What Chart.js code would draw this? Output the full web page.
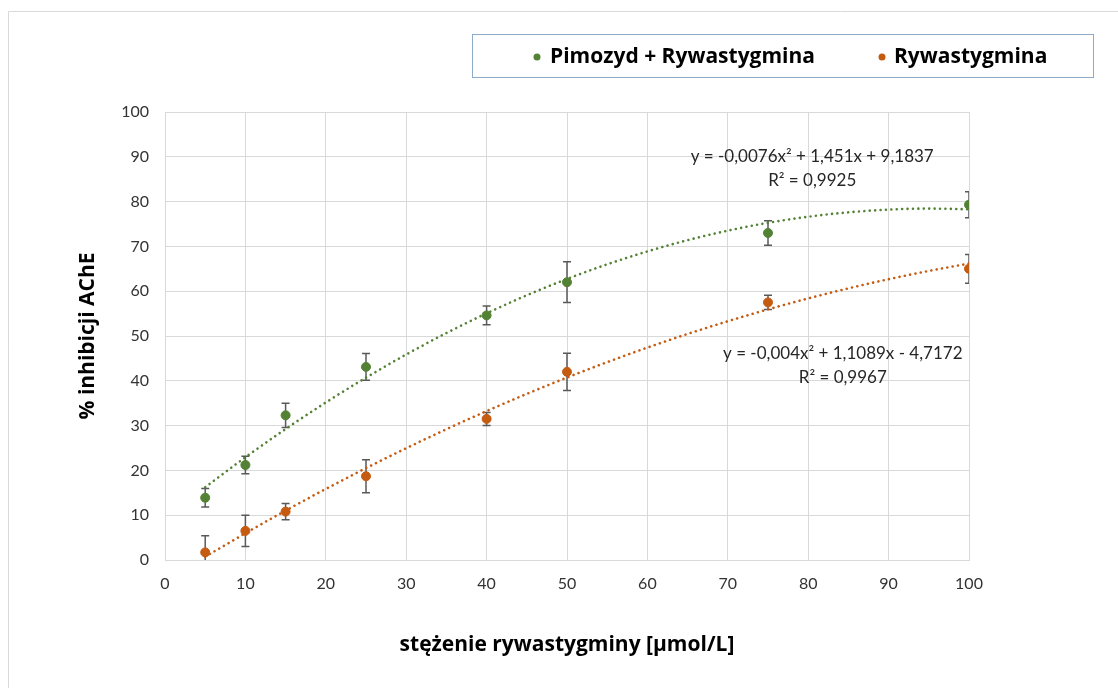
<!DOCTYPE html>
<html>
<head>
<meta charset="utf-8">
<script src="https://cdn.jsdelivr.net/npm/chart.js@4.4.1/dist/chart.umd.min.js"></script>
<style>
  html, body { margin: 0; padding: 0; background: #fff; }
  #wrap { position: relative; width: 1118px; height: 688px; }
</style>
</head>
<body>
<div id="wrap"><canvas id="c" width="1118" height="688"></canvas></div>
<script>
// ---- data ----
const concentrations = [5, 10, 15, 25, 40, 50, 75, 100];
const pimozydRyw     = [13.9, 21.2, 32.3, 43.1, 54.6, 62.0, 73.0, 79.3];
const pimozydRywErr  = [2.05, 1.95, 2.7, 3.0, 2.1, 4.55, 2.75, 2.9];
const ryw            = [1.7, 6.5, 10.8, 18.7, 31.5, 42.0, 57.5, 65.0];
const rywErr         = [3.7, 3.5, 1.8, 3.7, 1.45, 4.15, 1.6, 3.2];

const trendX         = [5, 10, 15, 20, 25, 30, 35, 40, 45, 50, 55, 60, 65, 70, 75, 80, 85, 90, 95, 100];
const pimozydTrend   = [16.25, 22.93, 29.24, 35.16, 40.71, 45.87, 50.66, 55.06, 59.09, 62.73, 66.00, 68.88, 71.39, 73.51, 75.26, 76.62, 77.61, 78.21, 78.44, 78.28];
const rywTrend       = [0.73, 5.97, 11.02, 15.86, 20.51, 24.95, 29.19, 33.24, 37.08, 40.73, 44.17, 47.42, 50.46, 53.30, 55.95, 58.39, 60.64, 62.68, 64.53, 66.17];

const seriesLabels   = ['Pimozyd + Rywastygmina', 'Rywastygmina'];
const xTicks         = [0, 10, 20, 30, 40, 50, 60, 70, 80, 90, 100];
const yTicks         = [0, 10, 20, 30, 40, 50, 60, 70, 80, 90, 100];
const xTitle         = 'stężenie rywastygminy [µmol/L]';
const yTitle         = '% inhibicji AChE';
const pimozydEqText  = ['y = -0,0076x² + 1,451x + 9,1837', 'R² = 0,9925'];
const rywEqText      = ['y = -0,004x² + 1,1089x - 4,7172', 'R² = 0,9967'];

const GREEN = '#548235';
const ORANGE = '#C55A11';
const FONT = 'Lato, "Liberation Sans", sans-serif';
const BOLDFONT = '"Open Sans", Lato, sans-serif';

Chart.defaults.font.family = FONT;
Chart.defaults.color = '#333';

const toXY = (xs, ys) => xs.map((x, i) => ({ x: x, y: ys[i] }));

// error bars (drawn through the scales)
const errorBarPlugin = {
  id: 'errorBars',
  beforeDatasetsDraw(chart) {
    const { ctx, chartArea, scales: { x, y } } = chart;
    ctx.save();
    ctx.beginPath();
    ctx.rect(chartArea.left, chartArea.top, chartArea.right - chartArea.left, chartArea.bottom - chartArea.top);
    ctx.clip();
    ctx.strokeStyle = '#595959';
    ctx.lineWidth = 1.5;
    chart.data.datasets.forEach(ds => {
      if (!ds.errors) return;
      ds.data.forEach((p, i) => {
        const px = x.getPixelForValue(p.x);
        const top = y.getPixelForValue(p.y + ds.errors[i]);
        const bot = y.getPixelForValue(p.y - ds.errors[i]);
        ctx.beginPath();
        ctx.moveTo(px, top); ctx.lineTo(px, bot);
        ctx.moveTo(px - 4, top); ctx.lineTo(px + 4, top);
        ctx.moveTo(px - 4, bot); ctx.lineTo(px + 4, bot);
        ctx.stroke();
      });
    });
    ctx.restore();
  }
};

// equation labels + legend box + outer frame
const decorPlugin = {
  id: 'decor',
  afterDraw(chart) {
    const { ctx, scales: { x, y } } = chart;
    ctx.save();
    // outer frame (top + left visible)
    ctx.strokeStyle = '#d9d9d9';
    ctx.lineWidth = 1;
    ctx.beginPath();
    ctx.moveTo(8.5, 688); ctx.lineTo(8.5, 11.5); ctx.lineTo(1118, 11.5);
    ctx.stroke();

    // equations
    ctx.fillStyle = '#262626';
    ctx.font = '17px ' + FONT;
    ctx.textAlign = 'center';
    ctx.textBaseline = 'middle';
    const eqs = [
      { t: pimozydEqText, cx: 80.5, y1: 90.0, y2: 84.8 },
      { t: rywEqText, cx: 84.3, y1: 46.2, y2: 40.8 }
    ];
    eqs.forEach(e => {
      const px = x.getPixelForValue(e.cx);
      ctx.fillText(e.t[0], px, y.getPixelForValue(e.y1));
      ctx.fillText(e.t[1], px, y.getPixelForValue(e.y2));
    });

    // legend box
    ctx.strokeStyle = '#8FAAC4';
    ctx.lineWidth = 1;
    ctx.strokeRect(472.5, 34.5, 621, 43);
    ctx.font = 'bold 21px ' + BOLDFONT;
    ctx.textAlign = 'left';
    ctx.fillStyle = '#000';
    const items = [
      { label: chart.data.datasets[0].label, color: GREEN, dot: 537, tx: 550 },
      { label: chart.data.datasets[1].label, color: ORANGE, dot: 882, tx: 894 }
    ];
    items.forEach(it => {
      ctx.fillStyle = it.color;
      ctx.beginPath();
      ctx.arc(it.dot, 57, 3.5, 0, Math.PI * 2);
      ctx.fill();
      ctx.fillStyle = '#000';
      ctx.fillText(it.label, it.tx, 57);
    });
    ctx.restore();
  }
};

const PAD_LEFT = 20, PAD_BOTTOM = 10;

new Chart(document.getElementById('c'), {
  type: 'scatter',
  data: {
    datasets: [
      {
        label: seriesLabels[0],
        data: toXY(concentrations, pimozydRyw),
        errors: pimozydRywErr,
        backgroundColor: GREEN, borderColor: GREEN,
        pointRadius: 4.5, pointHoverRadius: 4.5, showLine: false, order: 1
      },
      {
        label: seriesLabels[1],
        data: toXY(concentrations, ryw),
        errors: rywErr,
        backgroundColor: ORANGE, borderColor: ORANGE,
        pointRadius: 4.5, pointHoverRadius: 4.5, showLine: false, order: 1
      },
      {
        label: 'trend1',
        data: toXY(trendX, pimozydTrend),
        borderColor: GREEN, backgroundColor: GREEN,
        showLine: true, pointRadius: 0, borderWidth: 2.6,
        borderDash: [0.01, 5.4], borderCapStyle: 'round',
        cubicInterpolationMode: 'monotone', order: 2
      },
      {
        label: 'trend2',
        data: toXY(trendX, rywTrend),
        borderColor: ORANGE, backgroundColor: ORANGE,
        showLine: true, pointRadius: 0, borderWidth: 2.6,
        borderDash: [0.01, 5.4], borderCapStyle: 'round',
        cubicInterpolationMode: 'monotone', order: 2
      }
    ]
  },
  options: {
    responsive: false,
    animation: false,
    layout: { padding: { left: PAD_LEFT, right: 149, top: 112, bottom: PAD_BOTTOM } },
    plugins: { legend: { display: false }, tooltip: { enabled: false } },
    scales: {
      x: {
        type: 'linear', min: 0, max: 100,
        afterBuildTicks: s => { s.ticks = xTicks.map(v => ({ value: v })); },
        afterFit: s => { s.height = 688 - 560 - PAD_BOTTOM; },
        grid: { color: '#d9d9d9', lineWidth: 1, drawTicks: false },
        border: { color: '#d9d9d9' },
        ticks: { padding: 14, font: { size: 16 }, color: '#333', maxRotation: 0 },
        title: { display: true, text: xTitle, font: { family: BOLDFONT, size: 21, weight: 'bold' }, color: '#000', padding: { top: 0, bottom: 20 } }
      },
      y: {
        type: 'linear', min: 0, max: 100,
        afterBuildTicks: s => { s.ticks = yTicks.map(v => ({ value: v })); },
        afterFit: s => { s.width = 165 - PAD_LEFT; },
        grid: { color: '#d9d9d9', lineWidth: 1, drawTicks: false },
        border: { color: '#d9d9d9' },
        ticks: { padding: 16, font: { size: 16 }, color: '#333' },
        title: { display: true, text: yTitle, font: { family: BOLDFONT, size: 21, weight: 'bold' }, color: '#000', padding: { top: 55, bottom: 0 } }
      }
    }
  },
  plugins: [errorBarPlugin, decorPlugin]
});
</script>
</body>
</html>
